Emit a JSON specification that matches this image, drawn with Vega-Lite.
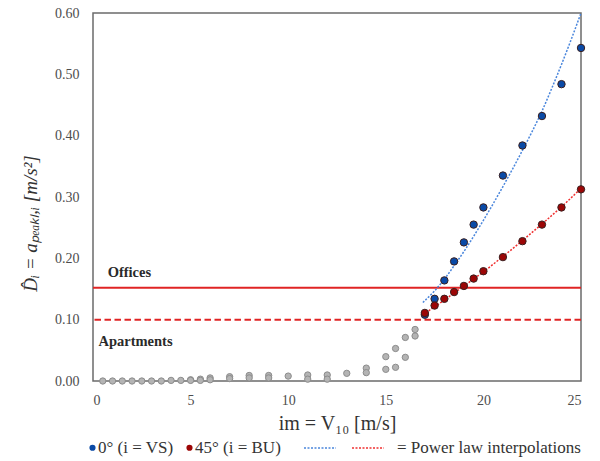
{
  "$schema": "https://vega.github.io/schema/vega-lite/v6.json",
  "autosize": {"type": "none"},
  "width": 488,
  "height": 368,
  "padding": {"left": 93, "top": 13, "right": 19, "bottom": 80},
  "background": "white",
  "config": {
    "font": "Liberation Serif",
    "view": {"stroke": "#6b6b6b", "strokeWidth": 1.5},
    "axis": {"grid": false, "domain": false, "ticks": false, "labelFont": "Liberation Serif", "labelFontSize": 14, "labelColor": "#4d4d4d", "titleFont": "Liberation Serif", "titleColor": "#333333", "titleFontWeight": "normal"},
    "legend": {"labelFont": "Liberation Serif", "labelFontSize": 17, "labelColor": "#333333", "labelLimit": 320}
  },
  "datasets": {
    "grey": [
      {"v": 0.5, "a": 0}, {"v": 1, "a": 0}, {"v": 1.5, "a": 0}, {"v": 2, "a": 0}, {"v": 2.5, "a": 0},
      {"v": 3, "a": 0}, {"v": 3.5, "a": 0}, {"v": 4, "a": 0.001}, {"v": 4.5, "a": 0.001},
      {"v": 5, "a": 0.002}, {"v": 5, "a": 0.001}, {"v": 5.5, "a": 0.003}, {"v": 5.5, "a": 0.001},
      {"v": 6, "a": 0.005}, {"v": 6, "a": 0.002}, {"v": 7, "a": 0.007}, {"v": 7, "a": 0.004},
      {"v": 8, "a": 0.009}, {"v": 8, "a": 0.005}, {"v": 9, "a": 0.009}, {"v": 9, "a": 0.005},
      {"v": 10, "a": 0.008}, {"v": 11, "a": 0.0098}, {"v": 11, "a": 0.003}, {"v": 12, "a": 0.0098}, {"v": 12, "a": 0.003},
      {"v": 13, "a": 0.0125}, {"v": 14, "a": 0.021}, {"v": 14, "a": 0.0136},
      {"v": 15, "a": 0.0397}, {"v": 15, "a": 0.019}, {"v": 15.5, "a": 0.053}, {"v": 15.5, "a": 0.0223},
      {"v": 16, "a": 0.071}, {"v": 16, "a": 0.0386}, {"v": 16.5, "a": 0.084}, {"v": 16.5, "a": 0.0734}
    ],
    "pts": [
      {"s": "0° (i = VS)", "v": 17, "a": 0.108}, {"s": "0° (i = VS)", "v": 17.5, "a": 0.134},
      {"s": "0° (i = VS)", "v": 18, "a": 0.164}, {"s": "0° (i = VS)", "v": 18.5, "a": 0.195},
      {"s": "0° (i = VS)", "v": 19, "a": 0.226}, {"s": "0° (i = VS)", "v": 19.5, "a": 0.255},
      {"s": "0° (i = VS)", "v": 20, "a": 0.283}, {"s": "0° (i = VS)", "v": 21, "a": 0.335},
      {"s": "0° (i = VS)", "v": 22, "a": 0.384}, {"s": "0° (i = VS)", "v": 23, "a": 0.432},
      {"s": "0° (i = VS)", "v": 24, "a": 0.484}, {"s": "0° (i = VS)", "v": 25, "a": 0.543},
      {"s": "45° (i = BU)", "v": 17, "a": 0.111}, {"s": "45° (i = BU)", "v": 17.5, "a": 0.123},
      {"s": "45° (i = BU)", "v": 18, "a": 0.134}, {"s": "45° (i = BU)", "v": 18.5, "a": 0.145},
      {"s": "45° (i = BU)", "v": 19, "a": 0.155}, {"s": "45° (i = BU)", "v": 19.5, "a": 0.167},
      {"s": "45° (i = BU)", "v": 20, "a": 0.179}, {"s": "45° (i = BU)", "v": 21, "a": 0.202},
      {"s": "45° (i = BU)", "v": 22, "a": 0.228}, {"s": "45° (i = BU)", "v": 23, "a": 0.255},
      {"s": "45° (i = BU)", "v": 24, "a": 0.283}, {"s": "45° (i = BU)", "v": 25, "a": 0.3125}
    ],
    "fits": [
      {"s": "VS fit", "v": 16.9, "a": 0.128}, {"s": "VS fit", "v": 17.5, "a": 0.147},
      {"s": "VS fit", "v": 18, "a": 0.166}, {"s": "VS fit", "v": 18.5, "a": 0.188},
      {"s": "VS fit", "v": 19, "a": 0.211}, {"s": "VS fit", "v": 19.5, "a": 0.236},
      {"s": "VS fit", "v": 20, "a": 0.262}, {"s": "VS fit", "v": 20.5, "a": 0.289},
      {"s": "VS fit", "v": 21, "a": 0.317}, {"s": "VS fit", "v": 21.5, "a": 0.346},
      {"s": "VS fit", "v": 22, "a": 0.376}, {"s": "VS fit", "v": 22.5, "a": 0.407},
      {"s": "VS fit", "v": 23, "a": 0.44}, {"s": "VS fit", "v": 23.5, "a": 0.477},
      {"s": "VS fit", "v": 24, "a": 0.516}, {"s": "VS fit", "v": 24.5, "a": 0.557},
      {"s": "VS fit", "v": 25, "a": 0.6},
      {"s": "BU fit", "v": 16.9, "a": 0.108}, {"s": "BU fit", "v": 18, "a": 0.132},
      {"s": "BU fit", "v": 19, "a": 0.155}, {"s": "BU fit", "v": 20, "a": 0.178},
      {"s": "BU fit", "v": 21, "a": 0.203}, {"s": "BU fit", "v": 22, "a": 0.229},
      {"s": "BU fit", "v": 23, "a": 0.256}, {"s": "BU fit", "v": 24, "a": 0.284},
      {"s": "BU fit", "v": 25, "a": 0.314}
    ],
    "offices": [{"name": "Offices", "a": 0.152}],
    "apartments": [{"name": "Apartments", "a": 0.1}],
    "notes": [
      {"label": "Offices", "v": 0.75, "a": 0.176},
      {"label": "Apartments", "v": 0.28, "a": 0.063}
    ]
  },
  "layer": [
    {
      "data": {"name": "grey"},
      "mark": {"type": "point", "filled": true, "size": 40, "color": "#b4b4b4", "stroke": "#8c8c8c", "strokeWidth": 1, "opacity": 1},
      "encoding": {
        "x": {"field": "v", "type": "quantitative", "scale": {"domain": [0, 25], "nice": false},
          "axis": {"values": [0, 5, 10, 15, 20, 25], "labelPadding": 12, "title": "im = V₁₀ [m/s]", "titleFontSize": 20, "titlePadding": 6}},
        "y": {"field": "a", "type": "quantitative", "scale": {"domain": [0, 0.6], "nice": false},
          "axis": {"values": [0, 0.1, 0.2, 0.3, 0.4, 0.5, 0.6], "format": ".2f", "labelPadding": 14, "title": "D̂ᵢ = aₚₑₐₖₗ,ᵢ  [m/s²]", "titleFontSize": 19, "titleFontStyle": "italic", "titlePadding": 14, "titleY": 210, "titleAnchor": "middle"}}
      }
    },
    {
      "data": {"name": "offices"},
      "mark": {"type": "rule", "color": "#e02424", "strokeWidth": 2},
      "encoding": {"y": {"field": "a", "type": "quantitative"}}
    },
    {
      "data": {"name": "apartments"},
      "mark": {"type": "rule", "color": "#e02424", "strokeWidth": 2, "strokeDash": [6.5, 3.5]},
      "encoding": {"y": {"field": "a", "type": "quantitative"}}
    },
    {
      "data": {"name": "notes"},
      "mark": {"type": "text", "align": "left", "baseline": "middle", "font": "Liberation Serif", "fontSize": 14.5, "fontWeight": "bold", "color": "#2a2a2a"},
      "encoding": {
        "x": {"field": "v", "type": "quantitative"},
        "y": {"field": "a", "type": "quantitative"},
        "text": {"field": "label"}
      }
    },
    {
      "data": {"name": "fits"},
      "mark": {"type": "line", "strokeWidth": 1.5, "strokeDash": [2, 1.5], "interpolate": "monotone"},
      "encoding": {
        "x": {"field": "v", "type": "quantitative"},
        "y": {"field": "a", "type": "quantitative"},
        "stroke": {"field": "s", "type": "nominal",
          "scale": {"domain": ["VS fit", "BU fit"], "range": ["#4a86dc", "#f03030"]},
          "legend": {"title": null, "orient": "none", "legendX": 210, "legendY": 418, "direction": "horizontal", "columns": 2, "columnPadding": 0, "labelOffset": 12,
            "symbolType": "stroke", "symbolSize": 1024, "symbolDash": [2, 1.5], "symbolStrokeWidth": 1.5,
            "labelExpr": "datum.label == 'VS fit' ? '' : '= Power law interpolations'"}}
      }
    },
    {
      "data": {"name": "pts"},
      "mark": {"type": "point", "filled": true, "size": 55, "strokeWidth": 1, "stroke": "#3a2020", "opacity": 1},
      "encoding": {
        "x": {"field": "v", "type": "quantitative"},
        "y": {"field": "a", "type": "quantitative"},
        "fill": {"field": "s", "type": "nominal",
          "scale": {"domain": ["0° (i = VS)", "45° (i = BU)"], "range": ["#0a4aa6", "#9c0606"]},
          "legend": {"title": null, "orient": "none", "legendX": -9, "legendY": 426, "direction": "horizontal", "columns": 2, "columnPadding": 7, "labelOffset": -3,
            "symbolType": "circle", "symbolSize": 38, "symbolStrokeWidth": 0}}
      }
    }
  ]
}
